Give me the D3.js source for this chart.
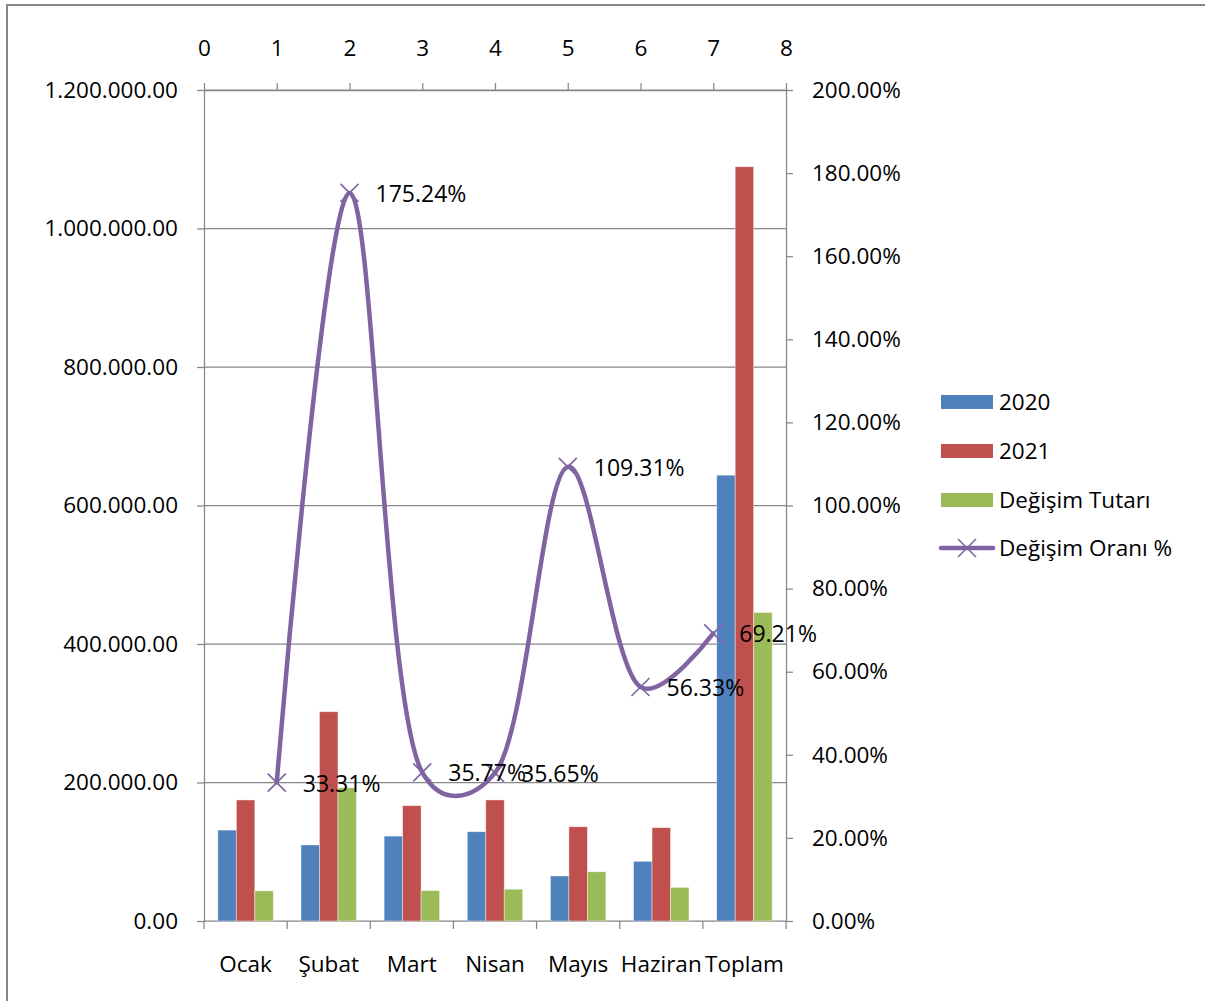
<!DOCTYPE html>
<html>
<head>
<meta charset="utf-8">
<script src="https://cdn.jsdelivr.net/npm/d3@7"></script>
<style>
  html, body { margin: 0; padding: 0; background: #fff; }
  svg { display: block; }
  text { font-family: "Open Sans", "Noto Sans", sans-serif; fill: #000; }
</style>
</head>
<body>
<svg id="chart" width="1205" height="1001"></svg>
<script>
// ---- Data ----
const categories = ["Ocak", "Şubat", "Mart", "Nisan", "Mayıs", "Haziran", "Toplam"];
const values2020 = [131300, 109800, 122600, 128900, 65000, 86200, 643800];
const values2021 = [174800, 302200, 166500, 174800, 136100, 134800, 1089200];
const changeAmount = [43500, 192400, 43900, 45900, 71100, 48600, 445400];
const changeRate = [33.31, 175.24, 35.77, 35.65, 109.31, 56.33, 69.21];
const seriesNames = ["2020", "2021", "Değişim Tutarı", "Değişim Oranı %"];
const leftTicks = [0, 200000, 400000, 600000, 800000, 1000000, 1200000];
const rightTicks = [0, 20, 40, 60, 80, 100, 120, 140, 160, 180, 200];
const topTicks = [0, 1, 2, 3, 4, 5, 6, 7, 8];

// ---- Styles ----
const colors = ["#4F81BD", "#C0504D", "#9BBB59", "#8064A2"];
const axisColor = "#868686";
const FS = 22.5;

const svg = d3.select("#chart");
const L = 204, R = 786, T = 90, B = 921;

// outer border
svg.append("rect").attr("x", 7).attr("y", 5).attr("width", 1400).attr("height", 1200)
  .attr("fill", "none").attr("stroke", axisColor).attr("stroke-width", 2);

const x = d3.scaleBand().domain(categories).range([L, R]).paddingInner(0).paddingOuter(0);
const sub = d3.scaleBand().domain([0, 1, 2]).range([0, x.bandwidth()]).paddingInner(0).paddingOuter(0.75);
const yL = d3.scaleLinear().domain([0, 1200000]).range([B, T]);
const yR = d3.scaleLinear().domain([0, 200]).range([B, T]);
const xTop = d3.scaleLinear().domain([0, 8]).range([L, R]);

const loc = d3.formatLocale({decimal: ".", thousands: ".", grouping: [3], currency: ["", ""]});
const fmtL = loc.format(",.2f");

// gridlines
svg.append("g").selectAll("line").data(leftTicks.filter(d => d > 0)).join("line")
  .attr("x1", L).attr("x2", R).attr("y1", d => yL(d)).attr("y2", d => yL(d))
  .attr("stroke", axisColor).attr("stroke-width", 1.25);

function styleAxis(g) {
  g.selectAll("path, line").attr("stroke", axisColor).attr("stroke-width", 1.25);
  g.selectAll("text").attr("font-size", FS).attr("fill", "#000")
    .attr("font-family", "'Open Sans', sans-serif");
}

// left axis
svg.append("g").attr("transform", `translate(${L},0)`)
  .call(d3.axisLeft(yL).tickValues(leftTicks).tickFormat(fmtL).tickSize(7).tickSizeOuter(0).tickPadding(19))
  .call(styleAxis);

// right axis
svg.append("g").attr("transform", `translate(${R},0)`)
  .call(d3.axisRight(yR).tickValues(rightTicks).tickFormat(d => d.toFixed(2) + "%").tickSize(7).tickSizeOuter(0).tickPadding(19))
  .call(styleAxis);

// top axis (secondary x for line)
svg.append("g").attr("transform", `translate(0,${T})`)
  .call(d3.axisTop(xTop).tickValues(topTicks).tickFormat(d3.format("d")).tickSize(7).tickSizeOuter(0).tickPadding(27))
  .call(styleAxis);

// bottom axis: baseline + ticks at category boundaries
const bottom = svg.append("g");
bottom.append("line").attr("x1", L).attr("x2", R).attr("y1", B).attr("y2", B)
  .attr("stroke", axisColor).attr("stroke-width", 1.25);
const boundaries = categories.map(c => x(c)).concat([x(categories[categories.length - 1]) + x.bandwidth()]);
bottom.selectAll("line.tk").data(boundaries).join("line").attr("class", "tk")
  .attr("x1", d => d).attr("x2", d => d).attr("y1", B).attr("y2", B + 8)
  .attr("stroke", axisColor).attr("stroke-width", 1.25);
bottom.selectAll("text").data(categories).join("text")
  .attr("x", d => x(d) + x.bandwidth() / 2).attr("y", 964).attr("dy", "0.35em")
  .attr("text-anchor", "middle").attr("font-size", FS).text(d => d);

// bars
const barSeries = [values2020, values2021, changeAmount];
barSeries.forEach((vals, si) => {
  svg.append("g").selectAll("rect").data(vals).join("rect")
    .attr("x", (d, i) => x(categories[i]) + sub(si))
    .attr("width", sub.bandwidth())
    .attr("y", d => yL(d))
    .attr("height", d => yL(0) - yL(d))
    .attr("fill", colors[si])
    .attr("stroke", "rgba(255,255,255,0.55)").attr("stroke-width", 0.75);
});

// line (smoothed)
const pts = changeRate.map((v, i) => [xTop(i + 1), yR(v)]);
svg.append("path").datum(pts)
  .attr("d", d3.line().curve(d3.curveCatmullRom.alpha(0.3)))
  .attr("fill", "none").attr("stroke", colors[3]).attr("stroke-width", 4.5)
  .attr("stroke-linecap", "round");

const M = 9;
function xMark(g, cx, cy) {
  g.append("path")
    .attr("d", `M${cx - M},${cy - M}L${cx + M},${cy + M}M${cx - M},${cy + M}L${cx + M},${cy - M}`)
    .attr("stroke", colors[3]).attr("stroke-width", 1.6).attr("fill", "none");
}
const mk = svg.append("g");
pts.forEach(p => xMark(mk, p[0], p[1]));

// data labels
svg.append("g").selectAll("text").data(changeRate).join("text")
  .attr("x", (d, i) => xTop(i + 1) + 26)
  .attr("y", d => yR(d) + 1).attr("dy", "0.35em")
  .attr("font-size", 23).text(d => d.toFixed(2) + "%");

// legend
const lg = svg.append("g");
const legY = [402, 451, 500, 548];
seriesNames.forEach((name, i) => {
  if (i < 3) {
    lg.append("rect").attr("x", 941).attr("y", legY[i] - 7).attr("width", 52).attr("height", 14)
      .attr("fill", colors[i]);
  } else {
    lg.append("line").attr("x1", 941).attr("x2", 993).attr("y1", legY[i]).attr("y2", legY[i])
      .attr("stroke", colors[3]).attr("stroke-width", 4.5).attr("stroke-linecap", "round");
    xMark(lg, 967, legY[i]);
  }
  lg.append("text").attr("x", 999).attr("y", legY[i]).attr("dy", "0.35em")
    .attr("font-size", FS).text(name);
});
</script>
</body>
</html>
